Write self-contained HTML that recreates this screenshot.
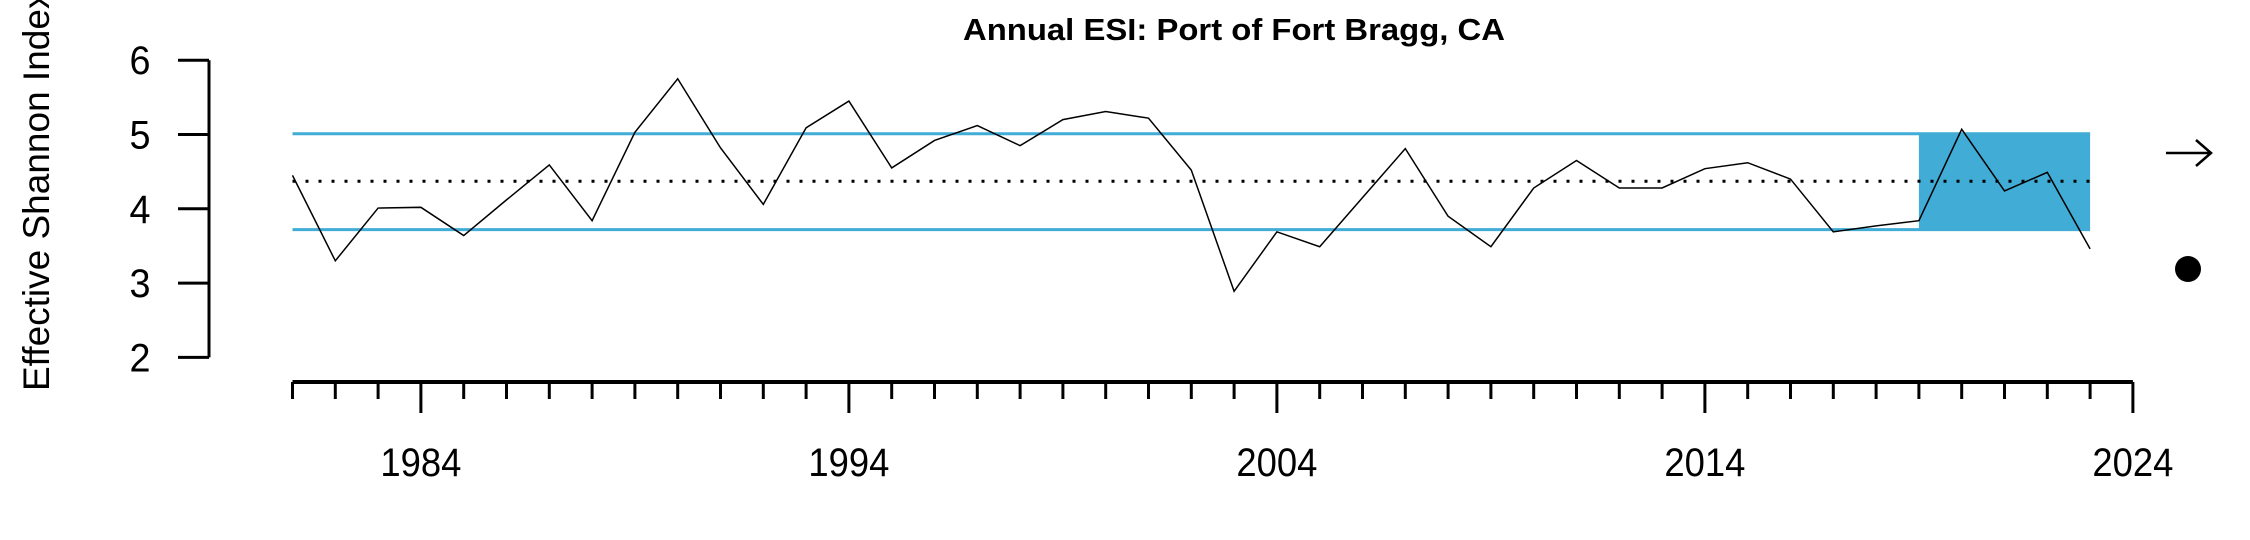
<!DOCTYPE html>
<html><head><meta charset="utf-8"><style>html,body{margin:0;padding:0;background:#fff;overflow:hidden}svg{display:block}</style></head>
<body>
<svg id="chart" width="2250" height="540" viewBox="0 0 2250 540" xmlns="http://www.w3.org/2000/svg" font-family="'Liberation Sans', sans-serif">
<g id="g"></g>
</svg>
<script>
const years = [1981,1982,1983,1984,1985,1986,1987,1988,1989,1990,1991,1992,1993,1994,1995,1996,1997,1998,1999,2000,2001,2002,2003,2004,2005,2006,2007,2008,2009,2010,2011,2012,2013,2014,2015,2016,2017,2018,2019,2020,2021,2022,2023];
const esiValues = [4.45,3.30,4.01,4.02,3.64,4.12,4.59,3.84,5.03,5.75,4.82,4.06,5.09,5.45,4.55,4.92,5.12,4.85,5.20,5.31,5.22,4.52,2.89,3.69,3.49,4.15,4.81,3.90,3.49,4.28,4.65,4.28,4.28,4.54,4.62,4.40,3.69,3.77,3.84,5.07,4.24,4.49,3.46];
const meanValue = [4.37];
const upperValue = [5.01];
const lowerValue = [3.72];
const shadeYears = [2019, 2023];
const yTicks = [2,3,4,5,6];
const xLabels = [1984,1994,2004,2014,2024];

const NS = 'http://www.w3.org/2000/svg';
const g = document.getElementById('g');
const X = yr => 292.5 + (yr - 1981) * 42.8;
const Y = v => 357.4 - (v - 2) * 74.3;
function el(tag, attrs, parent) {
  const e = document.createElementNS(NS, tag);
  for (const k in attrs) e.setAttribute(k, attrs[k]);
  (parent || g).appendChild(e);
  return e;
}
let r = el('rect', {x: X(shadeYears[0]), y: Y(upperValue[0]), width: X(shadeYears[1]) - X(shadeYears[0]), height: Y(lowerValue[0]) - Y(upperValue[0]), fill: '#41acd6'});


let u = el('line', {x1: X(years[0]), x2: X(years[years.length-1]), y1: Y(upperValue[0]), y2: Y(upperValue[0]), stroke: '#41acd6', 'stroke-width': 3});


let l = el('line', {x1: X(years[0]), x2: X(years[years.length-1]), y1: Y(lowerValue[0]), y2: Y(lowerValue[0]), stroke: '#41acd6', 'stroke-width': 3});


let m = el('line', {x1: X(years[0]), x2: X(years[years.length-1]), y1: Y(meanValue[0]), y2: Y(meanValue[0]), stroke: '#000', 'stroke-width': 3, 'stroke-dasharray': '3 10'});


let p = el('polyline', {points: years.map((y, i) => X(y) + ',' + Y(esiValues[i])).join(' '), fill: 'none', stroke: '#000', 'stroke-width': 1.5});


let ya = el('line', {x1: 209, x2: 209, y1: Y(6), y2: Y(2), stroke: '#000', 'stroke-width': 3});


yTicks.forEach(t => {
  el('line', {x1: 178, x2: 209, y1: Y(t), y2: Y(t), stroke: '#000', 'stroke-width': 3});
  const tx = el('text', {x: 140, y: Y(t) + 14, 'font-size': 40, 'text-anchor': 'middle', textLength: 21, lengthAdjust: 'spacingAndGlyphs', fill: '#000'});
  tx.textContent = t;
  
  
});
let xa = el('line', {x1: X(1981), x2: X(2024), y1: 382, y2: 382, stroke: '#000', 'stroke-width': 4});


for (let yr = 1981; yr <= 2024; yr++) {
  const major = xLabels.includes(yr);
  el('line', {x1: X(yr), x2: X(yr), y1: 382, y2: major ? 413 : 399, stroke: '#000', 'stroke-width': 3});
}
xLabels.forEach(t => {
  const tx = el('text', {x: X(t), y: 476, 'font-size': 40, 'text-anchor': 'middle', textLength: 81, lengthAdjust: 'spacingAndGlyphs', fill: '#000'});
  tx.textContent = t;
  
  
});
let ti = el('text', {x: 1234, y: 40, 'font-size': 31, 'font-weight': 'bold', 'text-anchor': 'middle', textLength: 542, lengthAdjust: 'spacingAndGlyphs', fill: '#000'});
ti.textContent = 'Annual ESI: Port of Fort Bragg, CA';


let yt = el('text', {x: 0, y: 0, 'font-size': 37, 'text-anchor': 'start', fill: '#000', transform: 'translate(49,391) rotate(-90)'});
yt.textContent = 'Effective Shannon Index';


let ar = el('path', {d: 'M2166,153 L2211,153 M2196,140 L2211,153 L2196,166', fill: 'none', stroke: '#000', 'stroke-width': 2.5});


let dot = el('circle', {cx: 2188, cy: 269, r: 13, fill: '#000'});


</script>
</body></html>
